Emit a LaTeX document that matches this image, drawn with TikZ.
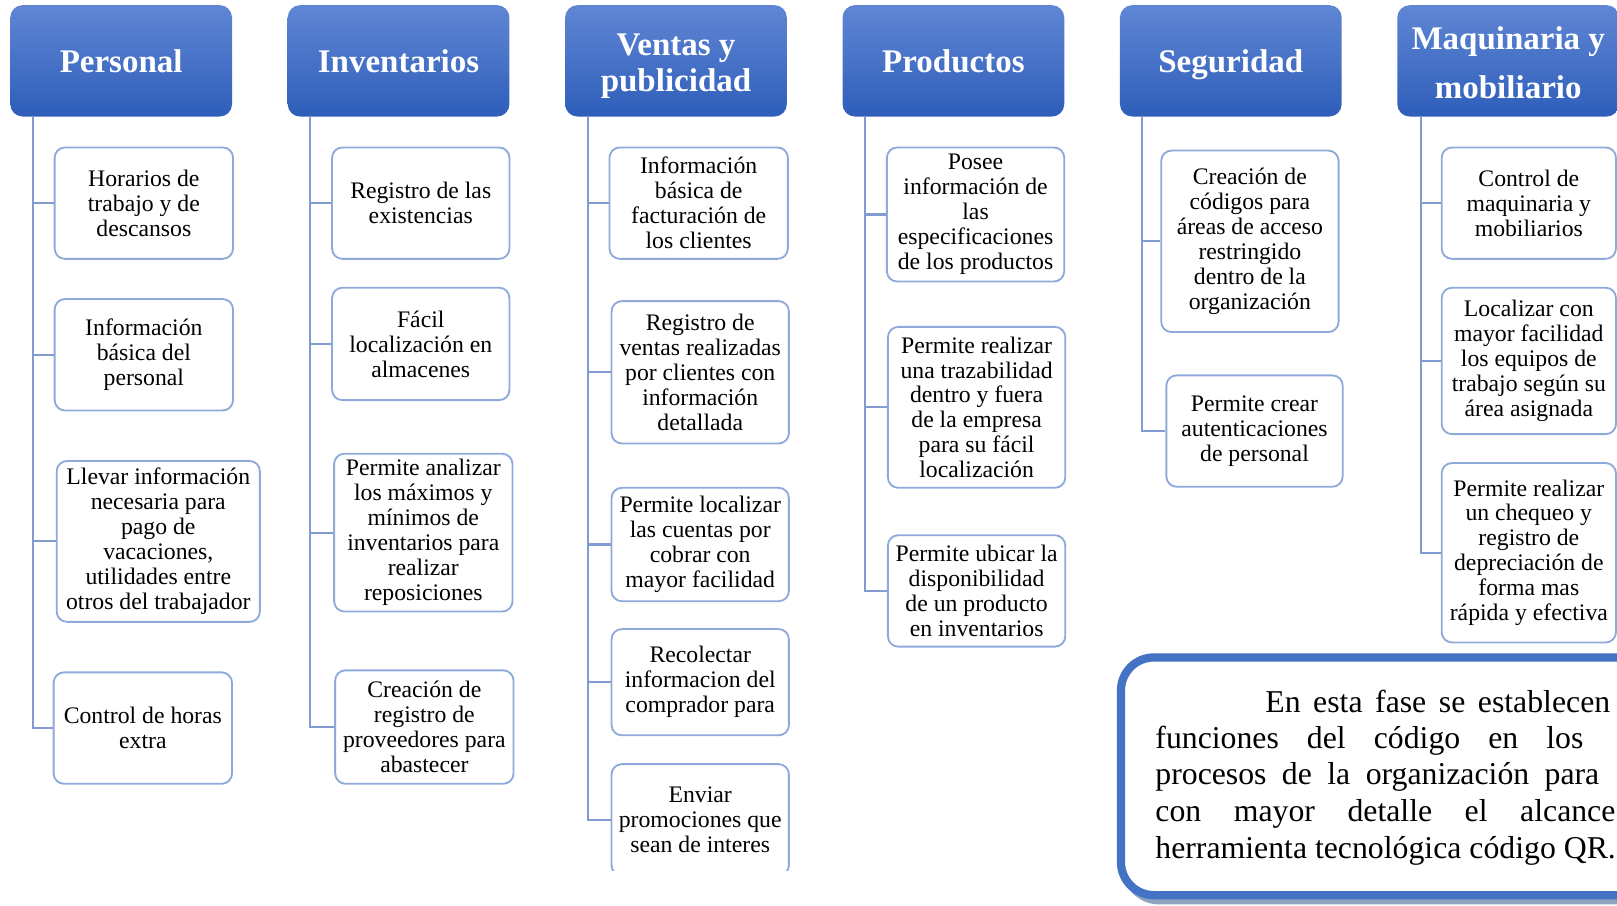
\documentclass[tikz,border=0pt]{standalone}
\usepackage{fontspec}
\setmainfont{Liberation Serif}
\definecolor{hdrtop}{RGB}{96,134,212}
\definecolor{hdrbot}{RGB}{46,94,186}
\definecolor{itemedge}{RGB}{142,170,219}
\definecolor{connc}{RGB}{128,156,208}
\definecolor{boxblue}{RGB}{68,114,196}
\definecolor{boxshadow}{RGB}{143,163,191}
\begin{document}
\begin{tikzpicture}[x=0.5pt,y=-0.5pt,
  hdr/.style={rounded corners=6pt, top color=hdrtop, bottom color=hdrbot, draw=none,
    minimum width=107.5pt, minimum height=54pt, inner sep=0pt},
  hdrtxt/.style={text=white, font=\fontsize{16}{17}\selectfont\bfseries, align=center, inner sep=0pt},
  item/.style={draw=itemedge, line width=0.9pt, rounded corners=5pt, fill=white,
    align=center, font=\fontsize{11.5}{12.1}\selectfont, inner sep=0pt},
  conn/.style={draw=connc, line width=1pt},
  para/.style={anchor=base west, inner sep=0pt, font=\fontsize{15.4}{18}\selectfont}]
\useasboundingbox (0,0) rectangle (1568,878);
\clip (0,0) rectangle (1568,878);

% headers
\node[hdr] (hP) at (117.5,59) {};
\node[hdr] (hI) at (386.5,59) {};
\node[hdr] (hV) at (655.5,59) {};
\node[hdr] (hR) at (924.5,59) {};
\node[hdr] (hS) at (1193.5,59) {};
\node[hdr] (hM) at (1462.5,59) {};
\node[hdrtxt] (hPt) at (hP.center) {Personal};
\node[hdrtxt] (hIt) at (hI.center) {Inventarios};
\node[hdrtxt, yshift=-2.6pt] (hVt) at (hV.center) {Ventas y\\publicidad};
\node[hdrtxt] (hRt) at (hR.center) {Productos};
\node[hdrtxt, text depth=0pt] (hSt) at (hS.center) {Seguridad};
\node[hdrtxt, font=\fontsize{16}{23.5}\selectfont\bfseries, yshift=-1pt] (hMt) at (hM.center) {Maquinaria y\\mobiliario};

% Personal
\node[item, minimum width=86.5pt, minimum height=54pt] (p1) at (139.5,197) {Horarios de\\trabajo y de\\descansos};
\node[item, minimum width=86.5pt, minimum height=54pt] (p2) at (139.5,344) {Información\\básica del\\personal};
\node[item, minimum width=98.5pt, minimum height=78pt] (p3) at (153.5,525) {Llevar información\\necesaria para\\pago de\\vacaciones,\\utilidades entre\\otros del trabajador};
\node[item, minimum width=86.5pt, minimum height=54pt] (p4) at (138.5,706) {Control de horas\\extra};
\foreach \c in {p1,p2,p3,p4} \draw[conn] (hP.south west) ++(22.5,0) |- (\c.west);

% Inventarios
\node[item, minimum width=86pt, minimum height=54pt] (i1) at (408,197) {Registro de las\\existencias};
\node[item, minimum width=86pt, minimum height=54.5pt] (i2) at (408,333.5) {Fácil\\localización en\\almacenes};
\node[item, minimum width=86.5pt, minimum height=76.5pt] (i3) at (410.5,516.5) {Permite analizar\\los máximos y\\mínimos de\\inventarios para\\realizar\\reposiciones};
\node[item, minimum width=86.5pt, minimum height=55pt] (i4) at (411.5,705) {Creación de\\registro de\\proveedores para\\abastecer};
\foreach \c in {i1,i2,i3,i4} \draw[conn] (hI.south west) ++(22,0) |- (\c.west);

% Ventas y publicidad
\node[item, minimum width=86.5pt, minimum height=54pt] (v1) at (677.5,197) {Información\\básica de\\facturación de\\los clientes};
\node[item, minimum width=86pt, minimum height=69pt] (v2) at (679,361) {Registro de\\ventas realizadas\\por clientes con\\información\\detallada};
\node[item, minimum width=86pt, minimum height=55pt] (v3) at (679,528) {Permite localizar\\las cuentas por\\cobrar con\\mayor facilidad};
\node[item, minimum width=86pt, minimum height=51.5pt] (v4) at (679,661.5) {Recolectar\\informacion del\\comprador para};
\begin{scope}
\clip (0,0) rectangle (1568,844);
\node[item, minimum width=86pt, minimum height=54pt] (v5) at (679,795) {Enviar\\promociones que\\sean de interes};
\end{scope}
\foreach \c in {v1,v2,v3,v4,v5} \draw[conn] (hV.south west) ++(23,0) |- (\c.west);

% Productos
\node[item, minimum width=86pt, minimum height=65pt] (r1) at (946,208) {Posee\\información de\\las\\especificaciones\\de los productos};
\node[item, minimum width=86pt, minimum height=78pt] (r2) at (947,395) {Permite realizar\\una trazabilidad\\dentro y fuera\\de la empresa\\para su fácil\\localización};
\node[item, minimum width=86pt, minimum height=54pt] (r3) at (947,573) {Permite ubicar la\\disponibilidad\\de un producto\\en inventarios};
\foreach \c in {r1,r2,r3} \draw[conn] (hR.south west) ++(22,0) |- (\c.west);

% Seguridad
\node[item, minimum width=86pt, minimum height=88pt] (s1) at (1212,234) {Creación de\\códigos para\\áreas de acceso\\restringido\\dentro de la\\organización};
\node[item, minimum width=85.5pt, minimum height=54pt] (s2) at (1216.5,418) {Permite crear\\autenticaciones\\de personal};
\foreach \c in {s1,s2} \draw[conn] (hS.south west) ++(22,0) |- (\c.west);

% Maquinaria y mobiliario
\node[item, minimum width=84.5pt, minimum height=54pt] (m1) at (1482.5,197) {Control de\\maquinaria y\\mobiliarios};
\node[item, minimum width=84.5pt, minimum height=71pt] (m2) at (1482.5,350) {Localizar con\\mayor facilidad\\los equipos de\\trabajo según su\\área asignada};
\node[item, minimum width=84.5pt, minimum height=87pt] (m3) at (1482.5,536) {Permite realizar\\un chequeo y\\registro de\\depreciación de\\forma mas\\rápida y efectiva};
\foreach \c in {m1,m2,m3} \draw[conn] (hM.south west) ++(23,0) |- (\c.west);

% text box
\draw[boxshadow, line width=4pt, rounded corners=16pt] (1092,642.5) rectangle (1665,873);
\draw[boxblue, fill=white, line width=4pt, rounded corners=16pt] (1087,637.5) rectangle (1660,868);
\node[para] (t1) at (1226.6,690.5) {\makebox[167.2pt][s]{En esta fase se establecen}};
\node[para] (t2) at (1120,725.8) {\makebox[207.5pt][s]{funciones del código en los}};
\node[para] (t3) at (1120,761.2) {\makebox[215.2pt][s]{procesos de la organización para}};
\node[para] (t4) at (1120,796.6) {\makebox[223pt][s]{con mayor detalle el alcance}};
\node[para] (t5) at (1120,832) {herramienta tecnológica código QR.};
\end{tikzpicture}
\end{document}
